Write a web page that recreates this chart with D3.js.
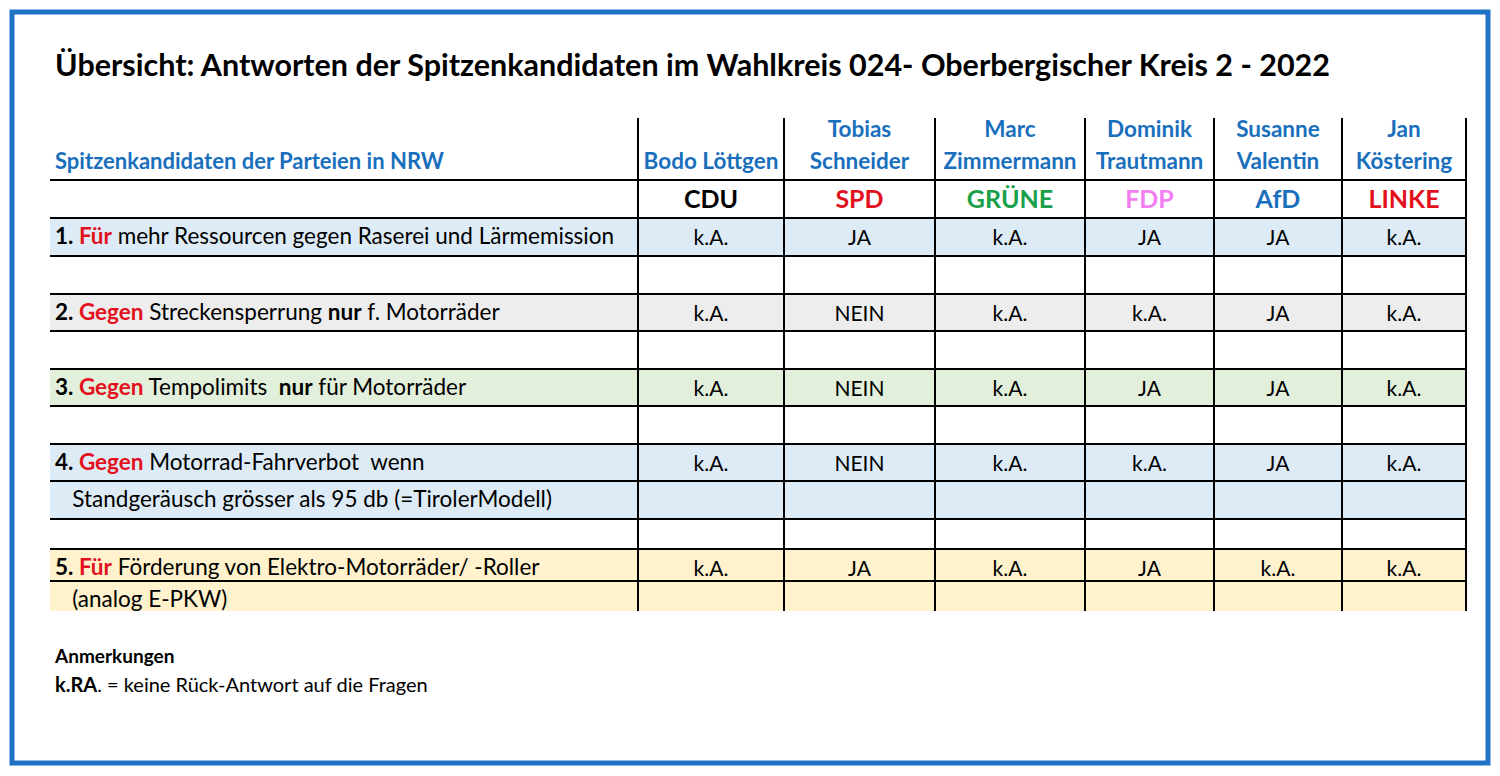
<!DOCTYPE html>
<html lang="de">
<head>
<meta charset="utf-8">
<script src="https://cdn.jsdelivr.net/npm/d3@7"></script>
<style>body{margin:0;background:#fff}</style>
</head>
<body>
<div id="svg"></div>
<script>
    var candidates = [["Bodo Löttgen"], ["Tobias", "Schneider"], ["Marc", "Zimmermann"], ["Dominik", "Trautmann"], ["Susanne", "Valentin"], ["Jan", "Köstering"]];
    var parties = ["CDU", "SPD", "GRÜNE", "FDP", "AfD", "LINKE"];
    var partyColors = ["#000000", "#e3101d", "#1aa04a", "#f27ef0", "#1a6fbd", "#e3101d"];
    // question rows: [number, keyword, rest, bold word, after]
    var questions = [
        {lines: [["1. ", "Für", " mehr Ressourcen gegen Raserei und Lärmemission"]], answers: ["k.A.", "JA", "k.A.", "JA", "JA", "k.A."], fill: "#ddebf7"},
        {lines: [["2. ", "Gegen", " Streckensperrung ", "nur", " f. Motorräder"]], answers: ["k.A.", "NEIN", "k.A.", "k.A.", "JA", "k.A."], fill: "#ededed"},
        {lines: [["3. ", "Gegen", " Tempolimits  ", "nur", " für Motorräder"]], answers: ["k.A.", "NEIN", "k.A.", "JA", "JA", "k.A."], fill: "#e2efda"},
        {lines: [["4. ", "Gegen", " Motorrad-Fahrverbot  wenn"], ["   Standgeräusch grösser als 95 db (=TirolerModell)"]], answers: ["k.A.", "NEIN", "k.A.", "k.A.", "JA", "k.A."], fill: "#ddebf7"},
        {lines: [["5. ", "Für", " Förderung von Elektro-Motorräder/ -Roller"], ["   (analog E-PKW)"]], answers: ["k.A.", "JA", "k.A.", "JA", "k.A.", "k.A."], fill: "#fff2cc"}
    ];

    var colEdges = [50, 638, 784, 935, 1085, 1214, 1342, 1466];
    var rowEdges = [218, 256, 294, 331, 369, 406, 444, 481, 519, 549, 581, 611];
    // which row-bands each question uses
    var qRows = [[0], [2], [4], [6, 7], [9, 10]];
    var font = "Lato, 'Open Sans', sans-serif";

    var svg = d3.select("#svg").append("svg").attr("width", 1500).attr("height", 776)
        .style("font-family", font);

    svg.append("rect").attr("x", 12).attr("y", 12).attr("width", 1476).attr("height", 751)
        .attr("fill", "none").attr("stroke", "#1f72c4").attr("stroke-width", 5);

    svg.append("text").attr("x", 55).attr("y", 76).attr("font-size", 30).attr("font-weight", "bold")
        .attr("textLength", 1275).attr("lengthAdjust", "spacingAndGlyphs")
        .text("Übersicht: Antworten der Spitzenkandidaten im Wahlkreis 024- Oberbergischer Kreis 2 - 2022");

    // fills
    questions.forEach(function(q, i){
        var rs = qRows[i];
        svg.append("rect").attr("x", colEdges[0]).attr("y", rowEdges[rs[0]])
            .attr("width", colEdges[7] - colEdges[0]).attr("height", rowEdges[rs[rs.length-1]+1] - rowEdges[rs[0]])
            .attr("fill", q.fill);
    });

    // horizontal lines
    svg.selectAll("line.h").data([180].concat(rowEdges.slice(0, -1))).enter().append("line")
        .attr("x1", colEdges[0]).attr("x2", colEdges[7]).attr("y1", d => d).attr("y2", d => d)
        .attr("stroke", "#000").attr("stroke-width", 2);
    // vertical lines
    svg.selectAll("line.v").data(colEdges.slice(1)).enter().append("line")
        .attr("x1", d => d).attr("x2", d => d).attr("y1", 118).attr("y2", 611)
        .attr("stroke", "#000").attr("stroke-width", 2);

    var blue = "#1a6fbd";
    svg.append("text").attr("x", 55).attr("y", 169).attr("font-size", 22).attr("font-weight", "bold")
        .attr("fill", blue).text("Spitzenkandidaten der Parteien in NRW");

    candidates.forEach(function(c, i){
        var cx = (colEdges[i+1] + colEdges[i+2]) / 2;
        c.forEach(function(line, j){
            svg.append("text").attr("x", cx).attr("y", 169 - (c.length - 1 - j) * 32)
                .attr("text-anchor", "middle").attr("font-size", 22.5).attr("font-weight", "bold")
                .attr("fill", blue).text(line);
        });
        svg.append("text").attr("x", cx).attr("y", 208).attr("text-anchor", "middle")
            .attr("font-size", 25).attr("font-weight", "bold").attr("fill", partyColors[i]).text(parties[i]);
    });

    questions.forEach(function(q, i){
        q.lines.forEach(function(parts, j){
            var y = rowEdges[qRows[i][j]] + 26;
            var t = svg.append("text").attr("x", 55).attr("y", y).attr("font-size", 22.5)
                .attr("xml:space", "preserve");
            parts.forEach(function(p, k){
                var ts = t.append("tspan").text(p);
                if (parts.length > 1 && (k === 0 || k === 3)) ts.attr("font-weight", "bold");
                if (k === 1) ts.attr("font-weight", "bold").attr("fill", "#e3101d");
            });
        });
        q.answers.forEach(function(a, k){
            svg.append("text").attr("x", (colEdges[k+1] + colEdges[k+2]) / 2).attr("y", rowEdges[qRows[i][0]] + 27)
                .attr("text-anchor", "middle").attr("font-size", 21).text(a);
        });
    });

    svg.append("text").attr("x", 55).attr("y", 663).attr("font-size", 19).attr("font-weight", "bold").text("Anmerkungen");
    var n = svg.append("text").attr("x", 55).attr("y", 692).attr("font-size", 20);
    n.append("tspan").attr("font-weight", "bold").text("k.RA");
    n.append("tspan").text(". = keine Rück-Antwort auf die Fragen");
</script>
</body>
</html>
